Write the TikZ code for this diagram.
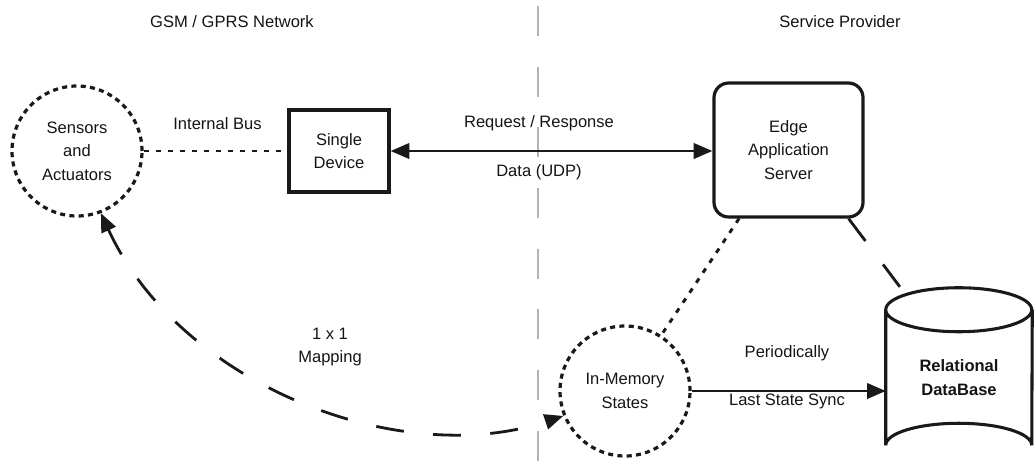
\documentclass[tikz,border=0pt]{standalone}
\usepackage{fontspec}
\setmainfont{Liberation Sans}
\usetikzlibrary{arrows.meta,calc}
\tikzset{bigtip/.tip={Triangle[length=14pt,width=11.5pt]}}
\begin{document}
\begin{tikzpicture}[x=0.75pt,y=-0.75pt,
  every node/.style={text=black!92,font=\fontsize{12.4}{17.5}\selectfont,align=center},
  dotcircle/.style={circle,draw=black!90,line width=2.4pt,dash pattern=on 3.8pt off 3.2pt,inner sep=0pt,minimum size=97.5pt},
  devbox/.style={rectangle,draw=black!90,line width=2.4pt,minimum width=75pt,minimum height=61.5pt,inner sep=0pt},
  srvbox/.style={rectangle,draw=black!90,line width=2.4pt,rounded corners=11pt,minimum width=111.75pt,minimum height=100.5pt,inner sep=0pt},
  dottedlink/.style={draw=black!90,line width=2.2pt,dash pattern=on 3.8pt off 5.2pt},
  solidlink/.style={draw=black!90,line width=2pt},
  longdash/.style={draw=black!90,line width=2.1pt,dash pattern=on 21pt off 22pt},
  lbl/.style={inner sep=0pt}]
\useasboundingbox (0,0) rectangle (1034,468);

% network boundary
\draw[gray!60,line width=1.2pt,dash pattern=on 22.5pt off 23pt] (538,6) -- (538,468);
\node[lbl] (gsm) at (232,22) {GSM / GPRS Network};
\node[lbl] (sp) at (840,22) {Service Provider};

% nodes
\node[dotcircle] (sens) at (77,151) {Sensors\\and\\Actuators};
\node[devbox] (dev) at (339,151) {Single\\Device};
\node[srvbox] (edge) at (788.5,150) {Edge\\Application\\Server};
\node[dotcircle] (mem) at (625,391) {In-Memory\\States};

% database cylinder
\node[minimum width=109.5pt,minimum height=101.25pt,inner sep=0pt] (db) at (959,377.5) {\textbf{Relational}\\\textbf{DataBase}};
\draw[black!90,line width=2.3pt]
  (db.north west) arc[start angle=180,end angle=-180,x radius=73,y radius=22]
  (db.north west) -- (db.south west)
  arc[start angle=180,end angle=360,x radius=73,y radius=22]
  -- (db.north east);
\coordinate (dbtop) at (903,291);

% connectors
\draw[dottedlink] (sens.east) -- (dev.west);
\node[lbl] (bus) at (217.5,124) {Internal Bus};

\draw[solidlink,bigtip-bigtip] (dev.east) -- (edge.west |- dev.east);
\node[lbl] (req) at (539,123) {Request / Response};
\node[lbl] (udp) at (539,172) {Data (UDP)};

\draw[dottedlink] ($(edge.south west)!0.175!(edge.south east)$) -- (mem.57);
\draw[longdash] ($(edge.south east)+(-16,0)$) -- (dbtop);

\draw[solidlink,-bigtip] (mem.east) -- (mem.east -| db.west);
\node[lbl] (per) at (787,353) {Periodically};
\node[lbl] (sync) at (787,401) {Last State Sync};

\draw[longdash,bigtip-bigtip]
  (sens.-69) .. controls (180,385) and (400,470) .. (mem.202);
\node[lbl] (one) at (330,334) {1 x 1};
\node[lbl] (map) at (330,358) {Mapping};
\end{tikzpicture}
\end{document}
